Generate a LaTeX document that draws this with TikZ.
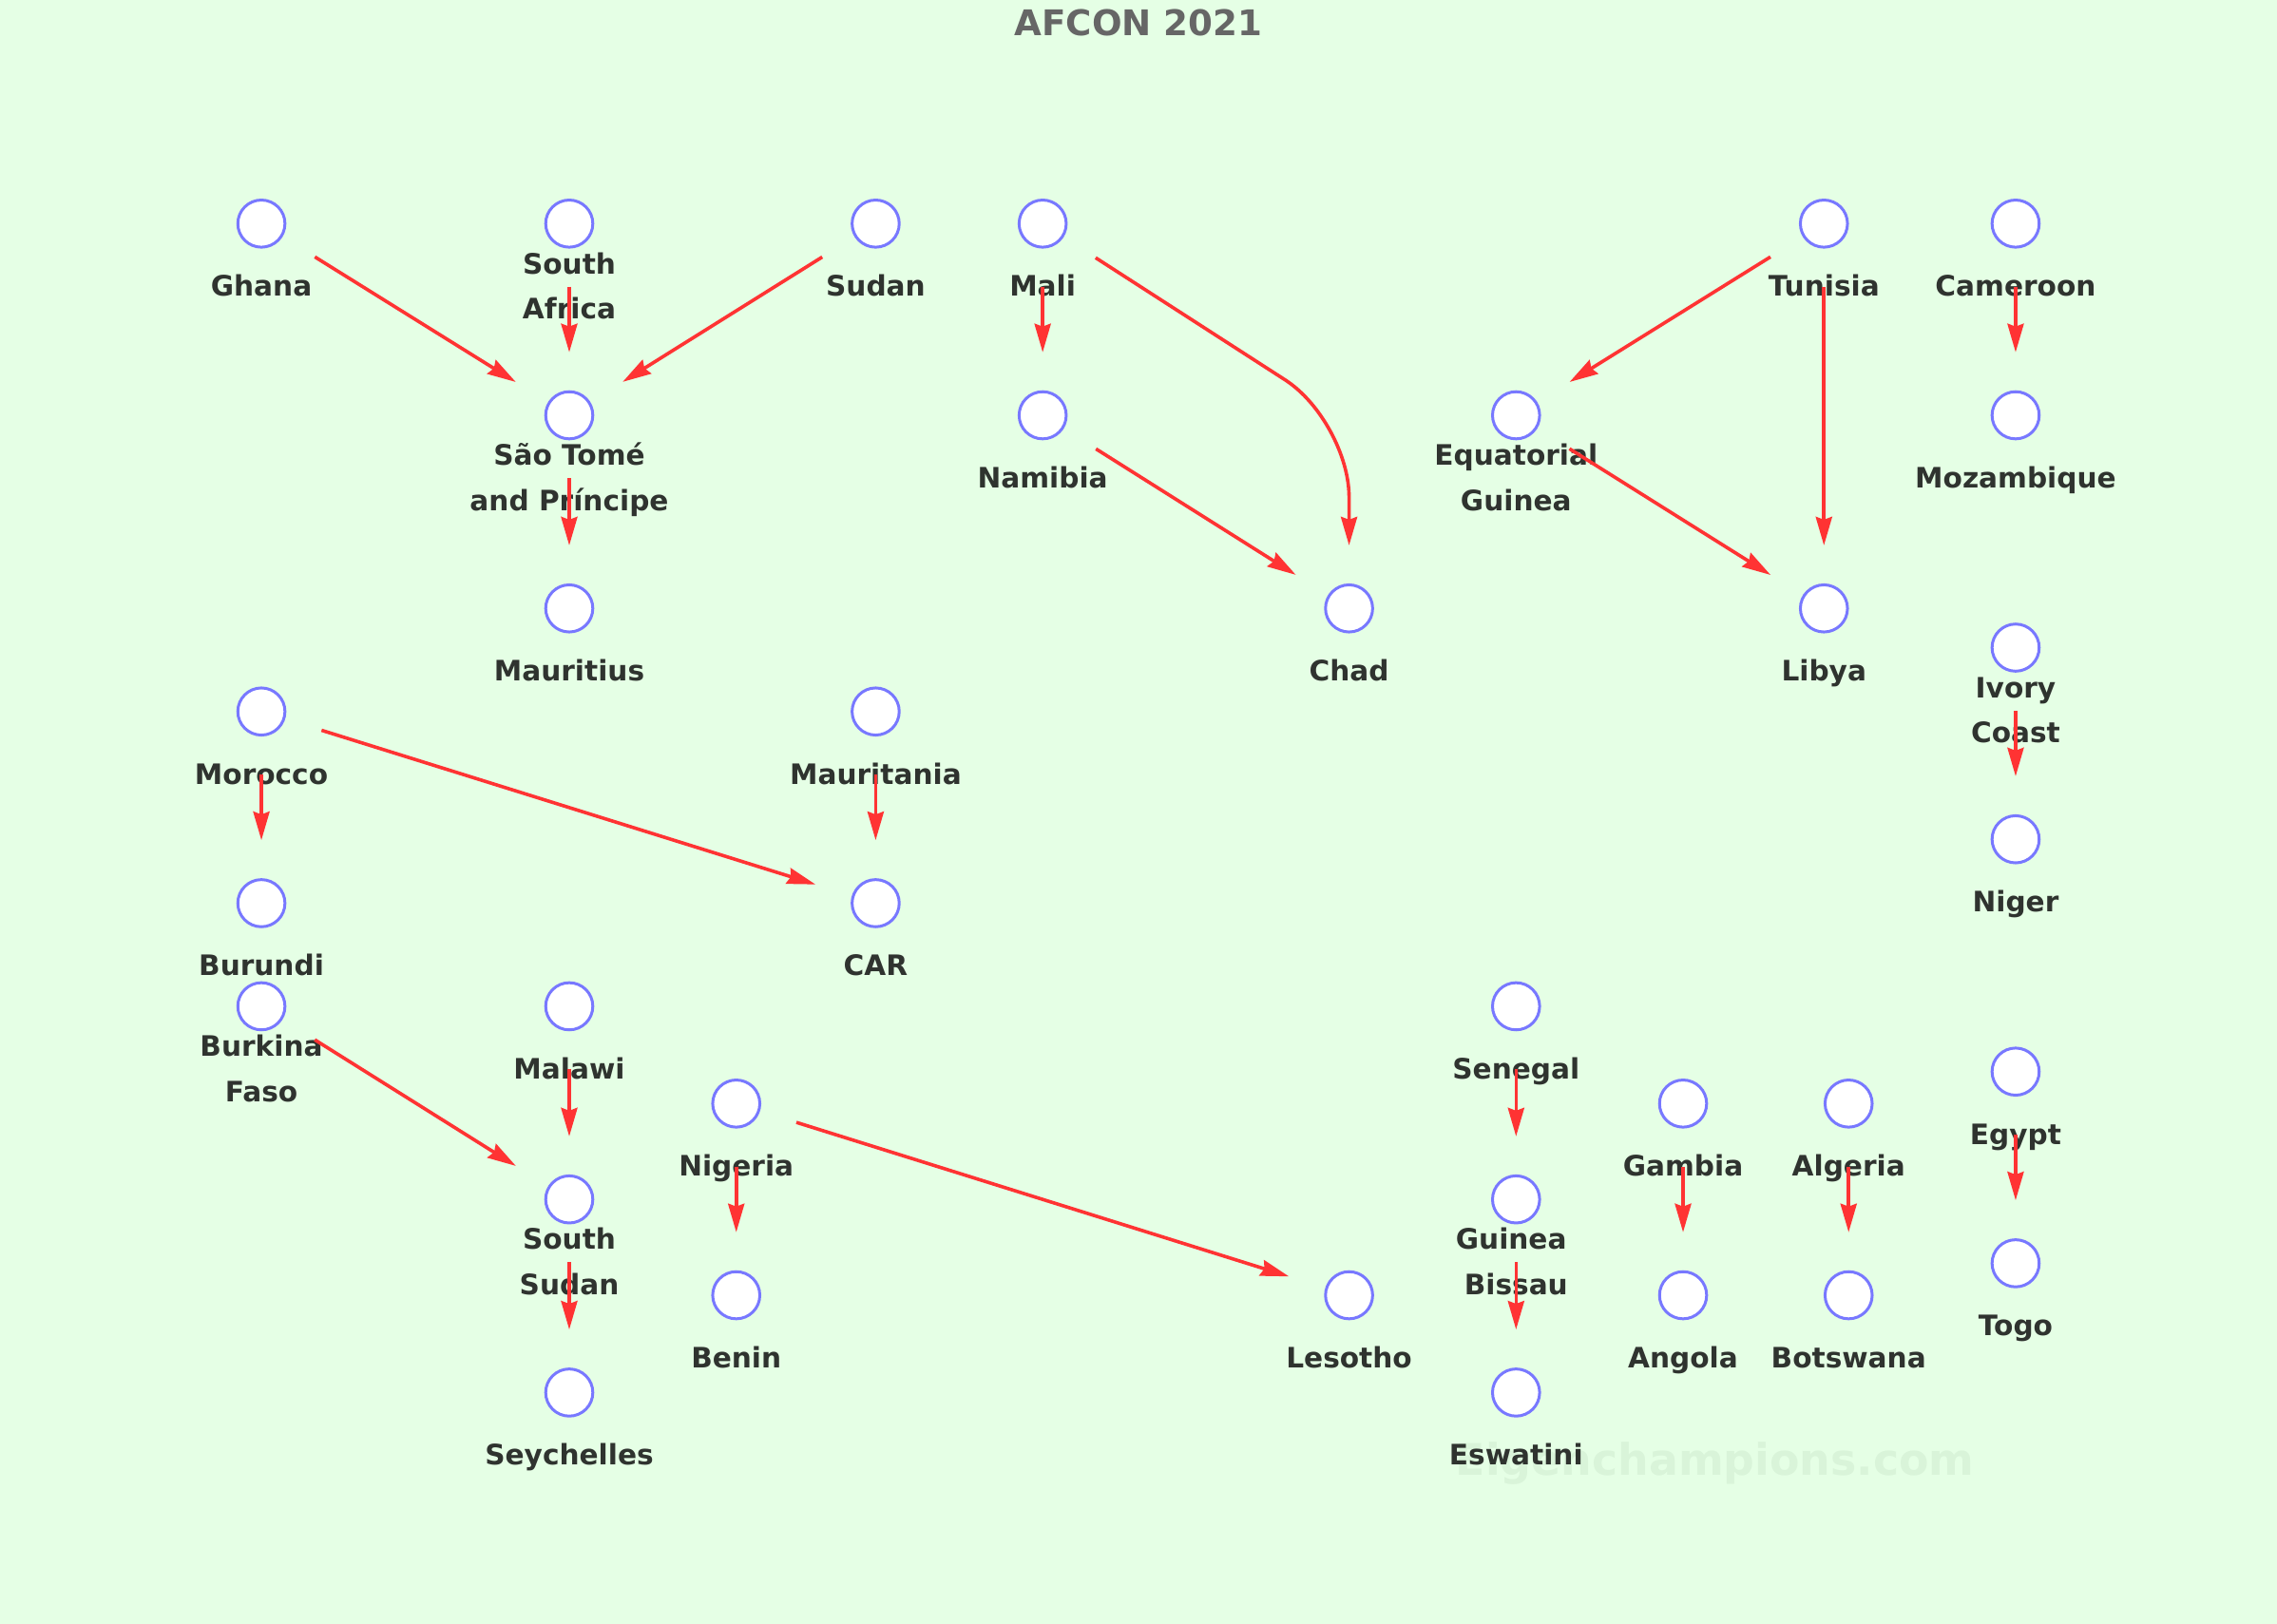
\documentclass[tikz,border=0pt]{standalone}
\usepackage{fontspec}
\setmainfont{DejaVu Sans}
\usetikzlibrary{arrows.meta}

\definecolor{pitch}{HTML}{E5FFE5}
\definecolor{teamblue}{HTML}{7878FF}
\definecolor{linkred}{HTML}{FF3333}
\definecolor{namegrey}{HTML}{2F332F}
\definecolor{titlegrey}{HTML}{666666}
\definecolor{markgreen}{HTML}{D9F4D9}

\tikzset{
  team/.style={circle, draw=teamblue, fill=white, line width=1.5pt,
    minimum size=24.8pt, inner sep=0pt},
  country/.style={font=\bfseries\fontsize{14.8pt}{23.7pt}\selectfont,
    text=namegrey, inner sep=0pt, yshift=-32.85pt,
    text height=10.8pt, text depth=0pt},
  countrytwo/.style={country, align=center, text height=34.5pt},
  link/.style={draw=linkred, line width=1.8pt,
    -{Stealth[length=15pt, width=8.5pt, inset=1.5pt]},
    shorten <=20pt, shorten >=20pt},
}

\begin{document}
\begin{tikzpicture}[x=0.764pt, y=-0.764pt]
  \fill[pitch] (0,0) rectangle (1568,1118.4);
  \useasboundingbox (0,0) rectangle (1568,1118.4);

  \node[font=\bfseries\fontsize{18.6pt}{22pt}\selectfont, text=titlegrey] (title) at (784,16) {AFCON 2021};
  \node[font=\bfseries\fontsize{22.9pt}{27pt}\selectfont, text=markgreen] (mark) at (1181,1008) {Eigenchampions.com};

  % top row
  \node[team, label={[country]center:Ghana}] (ghana) at (180,154) {};
  \node[team, label={[countrytwo]center:{South\\Africa}}] (safrica) at (392,154) {};
  \node[team, label={[country]center:Sudan}] (sudan) at (603,154) {};
  \node[team, label={[country]center:Mali}] (mali) at (718,154) {};
  \node[team, label={[country]center:Tunisia}] (tunisia) at (1256,154) {};
  \node[team, label={[country]center:Cameroon}] (cameroon) at (1388,154) {};

  \node[team, label={[countrytwo]center:{São Tomé\\and Príncipe}}] (saotome) at (392,286) {};
  \node[team, label={[country]center:Namibia}] (namibia) at (718,286) {};
  \node[team, label={[countrytwo]center:{Equatorial\\Guinea}}] (eqguinea) at (1044,286) {};
  \node[team, label={[country]center:Mozambique}] (mozambique) at (1388,286) {};

  \node[team, label={[country]center:Mauritius}] (mauritius) at (392,419) {};
  \node[team, label={[country]center:Chad}] (chad) at (929,419) {};
  \node[team, label={[country]center:Libya}] (libya) at (1256,419) {};
  \node[team, label={[countrytwo]center:{Ivory\\Coast}}] (ivorycoast) at (1388,446) {};

  % middle
  \node[team, label={[country]center:Morocco}] (morocco) at (180,490) {};
  \node[team, label={[country]center:Mauritania}] (mauritania) at (603,490) {};
  \node[team, label={[country]center:Niger}] (niger) at (1388,578) {};
  \node[team, label={[country]center:Burundi}] (burundi) at (180,622) {};
  \node[team, label={[country]center:CAR}] (car) at (603,622) {};

  % bottom
  \node[team, label={[countrytwo]center:{Burkina\\Faso}}] (burkina) at (180,693) {};
  \node[team, label={[country]center:Malawi}] (malawi) at (392,693) {};
  \node[team, label={[country]center:Senegal}] (senegal) at (1044,693) {};
  \node[team, label={[country]center:Egypt}] (egypt) at (1388,738) {};
  \node[team, label={[country]center:Nigeria}] (nigeria) at (507,760) {};
  \node[team, label={[country]center:Gambia}] (gambia) at (1159,760) {};
  \node[team, label={[country]center:Algeria}] (algeria) at (1273,760) {};
  \node[team, label={[countrytwo]center:{South\\Sudan}}] (ssudan) at (392,826) {};
  \node[team, label={[countrytwo]center:{Guinea\hspace*{5.1pt}\\Bissau}}] (gbissau) at (1044,826) {};
  \node[team, label={[country]center:Togo}] (togo) at (1388,870) {};
  \node[team, label={[country]center:Benin}] (benin) at (507,892) {};
  \node[team, label={[country]center:Lesotho}] (lesotho) at (929,892) {};
  \node[team, label={[country]center:Angola}] (angola) at (1159,892) {};
  \node[team, label={[country]center:Botswana}] (botswana) at (1273,892) {};
  \node[team, label={[country]center:Seychelles}] (seychelles) at (392,959) {};
  \node[team, label={[country]center:Eswatini}] (eswatini) at (1044,959) {};

  \coordinate (chadbend) at (929,290);

  \draw[link] (ghana) -- (saotome);
  \draw[link] (safrica) -- (saotome);
  \draw[link] (sudan) -- (saotome);
  \draw[link] (saotome) -- (mauritius);
  \draw[link] (mali) -- (namibia);
  \draw[link, rounded corners=40pt] (mali) -- (chadbend) -- (chad);
  \draw[link] (namibia) -- (chad);
  \draw[link] (tunisia) -- (eqguinea);
  \draw[link] (tunisia) -- (libya);
  \draw[link] (eqguinea) -- (libya);
  \draw[link] (cameroon) -- (mozambique);
  \draw[link] (ivorycoast) -- (niger);
  \draw[link] (morocco) -- (burundi);
  \draw[link] (morocco) -- (car);
  \draw[link] (mauritania) -- (car);
  \draw[link] (burkina) -- (ssudan);
  \draw[link] (malawi) -- (ssudan);
  \draw[link] (ssudan) -- (seychelles);
  \draw[link] (nigeria) -- (benin);
  \draw[link] (nigeria) -- (lesotho);
  \draw[link] (senegal) -- (gbissau);
  \draw[link] (gbissau) -- (eswatini);
  \draw[link] (gambia) -- (angola);
  \draw[link] (algeria) -- (botswana);
  \draw[link] (egypt) -- (togo);
\end{tikzpicture}
\end{document}
